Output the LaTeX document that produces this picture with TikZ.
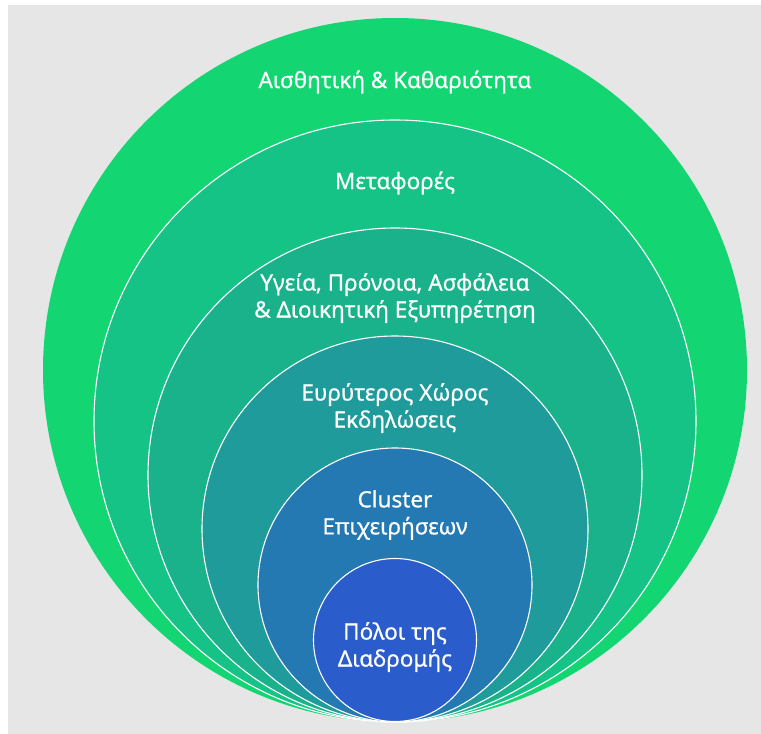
\documentclass[tikz,border=0pt]{standalone}
\usepackage{fontspec}
\setmainfont{Noto Sans}
\newfontfamily\ringfont[FakeBold=0.6]{Noto Sans}
\usetikzlibrary{positioning}
\definecolor{bggray}{HTML}{E6E6E6}
\definecolor{ringA}{HTML}{13D673}
\definecolor{ringB}{HTML}{16C386}
\definecolor{ringC}{HTML}{19B28B}
\definecolor{ringD}{HTML}{1F9B9C}
\definecolor{ringE}{HTML}{2579B3}
\definecolor{ringF}{HTML}{2A5DCB}
\tikzset{
  ring/.style={circle,inner sep=0pt,outer sep=0pt,draw=white,line width=1.1pt},
  lbl/.style={text=white,align=center,font=\ringfont\fontsize{22.5}{27}\selectfont}
}
\begin{document}
\begin{tikzpicture}[x=1pt,y=-1pt]
\useasboundingbox (0,0) rectangle (761,734);
\fill[white] (0,0) rectangle (761,734);
\fill[bggray] (8,5) rectangle (761,734);
% nested rings, all touching at the bottom
\node[ring,draw=none,fill=ringA,minimum size=704pt] (cAesth) at (395,370) {};
\node[ring,fill=ringB,minimum size=602pt] (cTransp) at (395,421) {};
\node[ring,fill=ringC,minimum size=494pt] (cHealth) at (395,475) {};
\node[ring,fill=ringD,minimum size=386pt] (cArea) at (395,529) {};
\node[ring,fill=ringE,minimum size=274pt] (cCluster) at (395,585) {};
\node[ring,fill=ringF,minimum size=163pt] (cPoles) at (395,640) {};
% labels
\node[lbl] (tAesth) at (395,82) {Αισθητική \& Καθαριότητα};
\node[lbl] (tTransp) at (395,183) {Μεταφορές};
\node[lbl] (tHealth) at (395,298) {Υγεία, Πρόνοια, Ασφάλεια\\\& Διοικητική Εξυπηρέτηση};
\node[lbl] (tArea) at (395,408) {Ευρύτερος Χώρος\\Εκδηλώσεις};
\node[lbl] (tCluster) at (395,515) {Cluster\\Επιχειρήσεων};
\node[lbl] (tPoles) at (395,647) {Πόλοι της\\Διαδρομής};
\end{tikzpicture}
\end{document}
